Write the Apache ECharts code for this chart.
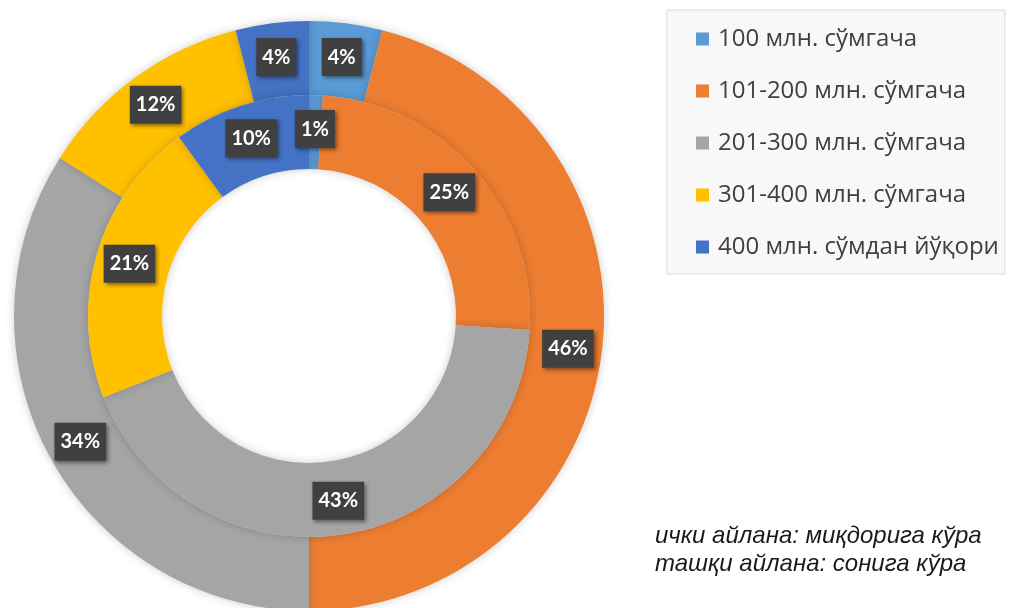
<!DOCTYPE html>
<html>
<head>
<meta charset="utf-8">
<script src="https://cdn.jsdelivr.net/npm/echarts@6/dist/echarts.min.js"></script>
<style>
  html, body { margin: 0; padding: 0; background: #fff; }
  #main { width: 1016px; height: 608px; }
</style>
</head>
<body>
<div id="main"></div>
<script>
// categories and values (percent)
const categories = ["100 млн. сўмгача", "101-200 млн. сўмгача", "201-300 млн. сўмгача", "301-400 млн. сўмгача", "400 млн. сўмдан йўқори"];
const innerValues = [1, 25, 43, 21, 10];   // ички айлана: миқдорига кўра
const outerValues = [4, 46, 34, 12, 4];    // ташқи айлана: сонига кўра
const colors = ["#5B9BD5", "#ED7D31", "#A5A5A5", "#FFC000", "#4472C4"];
const noteLines = ["ички айлана: миқдорига кўра", "ташқи айлана: сонига кўра"];

const myChart = echarts.init(document.getElementById("main"));

const toData = (vals) => vals.map((v, i) => ({ value: v, name: categories[i] }));

const labelStyle = {
  show: true,
  position: "inside",
  formatter: (p) => p.value + "%",
  color: "#ffffff",
  fontFamily: "Lato",
  fontWeight: "bold",
  fontSize: 20,
  backgroundColor: "#404040",
  padding: [10, 6, 8, 6],
  shadowBlur: 4,
  shadowOffsetX: 2,
  shadowOffsetY: 2,
  shadowColor: "rgba(0,0,0,0.45)"
};

const ringStyle = {
  shadowBlur: 10,
  shadowColor: "rgba(0,0,0,0.2)"
};

const option = {
  animation: false,
  color: colors,
  legend: {
    orient: "vertical",
    left: 667,
    top: 10,
    data: categories,
    itemWidth: 13,
    itemHeight: 13,
    itemGap: 26,
    icon: "rect",
    backgroundColor: "#f8f8f8",
    borderColor: "#dcdcdc",
    borderWidth: 1,
    padding: [16, 6, 14, 29],
    textStyle: {
      fontFamily: "Open Sans",
      fontSize: 24,
      lineHeight: 26,
      color: "#404040",
      padding: [0, 0, 0, 4]
    }
  },
  graphic: [{
    type: "text",
    left: 655,
    top: 522,
    style: {
      text: noteLines.join("\n"),
      font: "italic 24px 'Liberation Sans'",
      lineHeight: 28,
      fill: "#1a1a1a"
    }
  }],
  series: [
    {
      name: "outer",
      type: "pie",
      center: [309, 316],
      radius: [221, 295],
      startAngle: 90,
      silent: true,
      itemStyle: ringStyle,
      label: labelStyle,
      labelLine: { show: false },
      data: toData(outerValues)
    },
    {
      name: "inner",
      type: "pie",
      center: [309, 316],
      radius: [147, 221],
      startAngle: 90,
      silent: true,
      itemStyle: ringStyle,
      label: labelStyle,
      labelLine: { show: false },
      data: toData(innerValues)
    }
  ]
};

myChart.setOption(option);
window.onresize = function() {
  myChart.resize();
};
</script>
</body>
</html>
